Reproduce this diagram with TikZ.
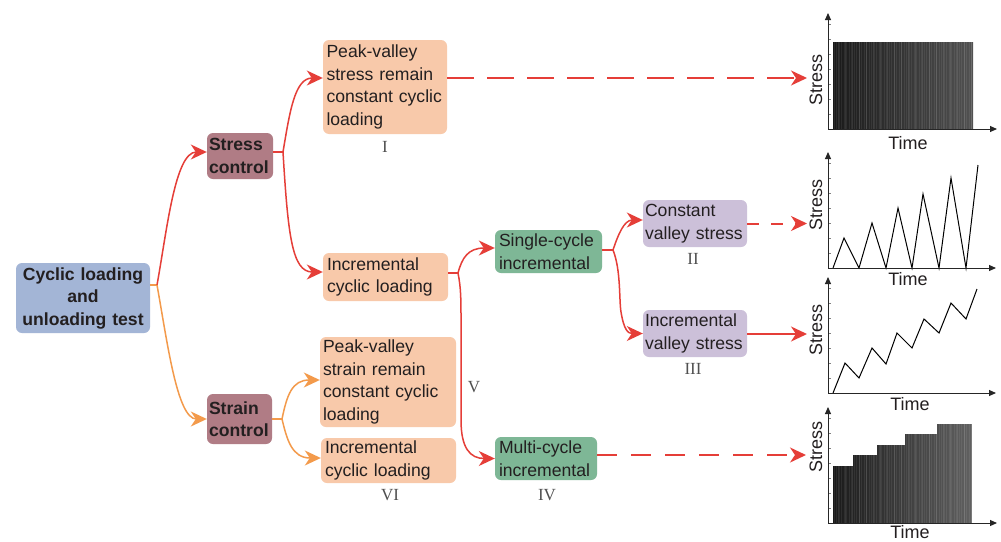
\documentclass[tikz,border=0pt]{standalone}
\usepackage{fontspec}
\setmainfont{Liberation Sans}
\newfontfamily\numfont{Liberation Serif}
\usetikzlibrary{arrows.meta}
\definecolor{cblue}{RGB}{163,181,214}
\definecolor{cctrl}{RGB}{176,124,133}
\definecolor{cpeach}{RGB}{248,201,170}
\definecolor{cgreen}{RGB}{126,183,150}
\definecolor{clav}{RGB}{204,192,217}
\definecolor{cred}{RGB}{229,62,56}
\definecolor{corange}{RGB}{243,154,75}
\definecolor{ctxt}{RGB}{35,31,32}
\definecolor{cnum}{RGB}{80,80,80}
\newcommand\bxfont{\fontsize{17.6}{22.5}\selectfont}
\tikzset{
  bx/.style={rounded corners=6pt, inner ysep=2pt, font=\bxfont, text=ctxt, align=left, anchor=center},
  bbx/.style={bx, font=\bxfont\bfseries},
  num/.style={font=\numfont\fontsize{17}{17}\selectfont, text=cnum, inner sep=0pt},
  axl/.style={font=\fontsize{18}{18}\selectfont, text=ctxt, inner sep=0pt},
  tipa/.style={-{Stealth[length=16pt,width=15pt,inset=5pt]}},
  rdline/.style={draw=cred, line width=1.5pt},
  orline/.style={draw=corange, line width=1.5pt},
  dsline/.style={draw=cred, line width=2pt},
  axis/.style={draw=black!85, line width=1pt, -{Triangle[length=7pt,width=6pt]}},
  zig/.style={draw=black, line width=1pt, line join=miter},
  tick/.style={draw=black!50, line width=0.5pt}
}
\begin{document}
\begin{tikzpicture}[x=1pt,y=-1pt]
\useasboundingbox (0,0) rectangle (1001,541);
\fill[white] (0,0) rectangle (1001,541);

% ---------- boxes ----------
\node[bbx, fill=cblue, text width=130pt, inner xsep=2pt, minimum height=70pt, align=center] (main) at (83,298) {\mbox{Cyclic loading}\\and\\\mbox{unloading test}};
\node[bbx, fill=cctrl, text width=62pt, inner xsep=2pt, minimum height=46pt] (stressc) at (240,156) {Stress\\control};
\node[bbx, fill=cctrl, text width=61pt, inner xsep=2pt, minimum height=50pt] (strainc) at (239.5,419) {Strain\\control};
\node[bx, fill=cpeach, text width=117pt, inner xsep=3.5pt, minimum height=94pt] (pvs) at (385,87) {Peak-valley\\\mbox{stress remain}\\\mbox{constant cyclic}\\loading};
\node[bx, fill=cpeach, text width=117pt, inner xsep=4pt, minimum height=48pt] (icl1) at (385.5,277) {Incremental\\\mbox{cyclic loading}};
\node[bx, fill=cpeach, text width=130pt, inner xsep=3pt, minimum height=90pt] (pve) at (388,382) {Peak-valley\\\mbox{strain remain}\\\mbox{constant cyclic}\\loading};
\node[bx, fill=cpeach, text width=127pt, inner xsep=4pt, minimum height=45pt] (icl2) at (388.5,460.5) {Incremental\\\mbox{cyclic loading}};
\node[bx, fill=cgreen, text width=99pt, inner xsep=4pt, minimum height=43pt] (single) at (548.5,251.5) {Single-cycle\\incremental};
\node[bx, fill=cgreen, text width=94pt, inner xsep=4pt, minimum height=43pt] (multi) at (546,458.5) {Multi-cycle\\incremental};
\node[bx, fill=clav, text width=100pt, inner xsep=2pt, minimum height=47pt] (cvs) at (695,223.5) {Constant\\\mbox{valley stress}};
\node[bx, fill=clav, text width=100pt, inner xsep=2pt, minimum height=47pt] (ivs) at (695,333.5) {Incremental\\\mbox{valley stress}};

% ---------- roman numerals ----------
\node[num] (n1) at (385,147) {I};
\node[num] (n2) at (693,259) {II};
\node[num] (n3) at (693,369) {III};
\node[num] (n4) at (547,495) {IV};
\node[num] (n5) at (474,387) {V};
\node[num] (n6) at (390,495) {VI};

% ---------- junctions and targets ----------
\coordinate (j1) at (157,285);
\coordinate (j2) at (283,152);
\coordinate (j3) at (282,419);
\coordinate (j4) at (458,273);
\coordinate (j5) at (613,250);
\coordinate (t1) at (807,78);
\coordinate (t2) at (807,223.5);
\coordinate (t3) at (807,334);
\coordinate (t4) at (806,455);

% ---------- connectors ----------
\draw[orline] ([yshift=13pt]main.east) -- (j1);
\draw[rdline, tipa] (j1) .. controls (167,230) and (175,152) .. ([yshift=4pt]stressc.west);
\draw[orline, tipa] (j1) .. controls (167,340) and (177,419) .. (strainc.west);

\draw[rdline] ([yshift=4pt]stressc.east) -- (j2);
\draw[rdline, tipa] (j2) .. controls (290,110) and (295,78) .. ([yshift=9pt]pvs.west);
\draw[rdline, tipa] (j2) .. controls (288,235) and (292,272) .. ([yshift=5pt]icl1.west);

\draw[orline] (strainc.east) -- (j3);
\draw[orline, tipa] (j3) .. controls (287,395) and (292,380) .. ([yshift=2pt]pve.west);
\draw[orline, tipa] (j3) .. controls (287,440) and (292,458) .. ([yshift=2.5pt]icl2.west);

\draw[rdline] ([yshift=4pt]icl1.east) -- (j4);
\draw[rdline, tipa] (j4) .. controls (462,258) and (468,248) .. ([yshift=3.5pt]single.west);
\draw[rdline, tipa] (j4) .. controls (461,288) and (461,300) .. (461,320) -- (461,420) .. controls (461,448) and (470,458.5) .. (multi.west);

\draw[rdline] ([yshift=1.5pt]single.east) -- (j5);
\draw[rdline, tipa] (j5) .. controls (618,235) and (624,220) .. ([yshift=3.5pt]cvs.west);
\draw[rdline, tipa] (j5) .. controls (621,270) and (619,300) .. (621,312) .. controls (624,330) and (628,333.5) .. (ivs.west);

\draw[dsline, tipa, dash pattern=on 27pt off 13pt] ([yshift=9pt]pvs.east) -- (t1);
\draw[dsline, tipa, dash pattern=on 12pt off 12pt] (cvs.east) -- (t2);
\draw[dsline, tipa] ([yshift=-0.5pt]ivs.east) -- (t3);
\draw[dsline, tipa, dash pattern=on 20pt off 14pt] ([yshift=3.5pt]multi.east) -- (t4);

% ---------- chart 1 ----------
\shade[left color=black!90, right color=black!68] (833,42) rectangle (973,129);
\foreach \x in {834,836.5,...,972} {\draw[white, opacity=0.07, line width=0.5pt] (\x,42) -- (\x,129);}
\foreach \x in {838,845,...,972} {\draw[white, opacity=0.1, line width=0.6pt] (\x,42) -- (\x,129);}
\foreach \k in {1,...,7} {\draw[tick] (828,{129-15*\k}) -- ++(3,0);}
\draw[axis] (828,129) -- (828,13);
\draw[axis] (828,129) -- (997,129);
\node[axl, rotate=90] (s1) at (816,80) {Stress};
\node[axl] (tm1) at (908,143) {Time};

% ---------- chart 2 ----------
\foreach \k in {1,...,7} {\draw[tick] (828,{268-15*\k}) -- ++(3,0);}
\draw[zig] (833,268) -- (844,238) -- (859,268) -- (872,223) -- (886,268) -- (898,208) -- (912,268) -- (923,194) -- (939,268) -- (951,178) -- (966,268) -- (978,165);
\draw[axis] (828,268) -- (828,152);
\draw[axis] (828,268) -- (996,268);
\node[axl, rotate=90] (s2) at (816,205) {Stress};
\node[axl] (tm2) at (908,279) {Time};

% ---------- chart 3 ----------
\foreach \k in {1,...,7} {\draw[tick] (828,{393-15*\k}) -- ++(3,0);}
\draw[zig] (833,393) -- (845,363) -- (859,378) -- (872,348) -- (886,364) -- (897,333) -- (912,348) -- (924,319) -- (939,333) -- (951,303) -- (966,319) -- (977,289);
\draw[axis] (828,393) -- (828,277);
\draw[axis] (828,393) -- (996,393);
\node[axl, rotate=90] (s3) at (816,330) {Stress};
\node[axl] (tm3) at (910,404) {Time};

% ---------- chart 4 ----------
\begin{scope}
\clip (833,523) -- (833,466) -- (853,466) -- (853,455) -- (877,455) -- (877,445) -- (905,445) -- (905,434) -- (937,434) -- (937,424) -- (972,424) -- (972,523) -- cycle;
\shade[left color=black!90, right color=black!62] (833,424) rectangle (972,523);
\foreach \x in {834,836.5,...,972} {\draw[white, opacity=0.07, line width=0.5pt] (\x,424) -- (\x,523);}
\foreach \x in {838,845,...,972} {\draw[white, opacity=0.1, line width=0.6pt] (\x,424) -- (\x,523);}
\end{scope}
\foreach \k in {1,...,7} {\draw[tick] (828,{523-15*\k}) -- ++(3,0);}
\draw[axis] (828,523) -- (828,407);
\draw[axis] (828,523) -- (997,523);
\node[axl, rotate=90] (s4) at (816,447) {Stress};
\node[axl] (tm4) at (910,532) {Time};
\end{tikzpicture}
\end{document}
